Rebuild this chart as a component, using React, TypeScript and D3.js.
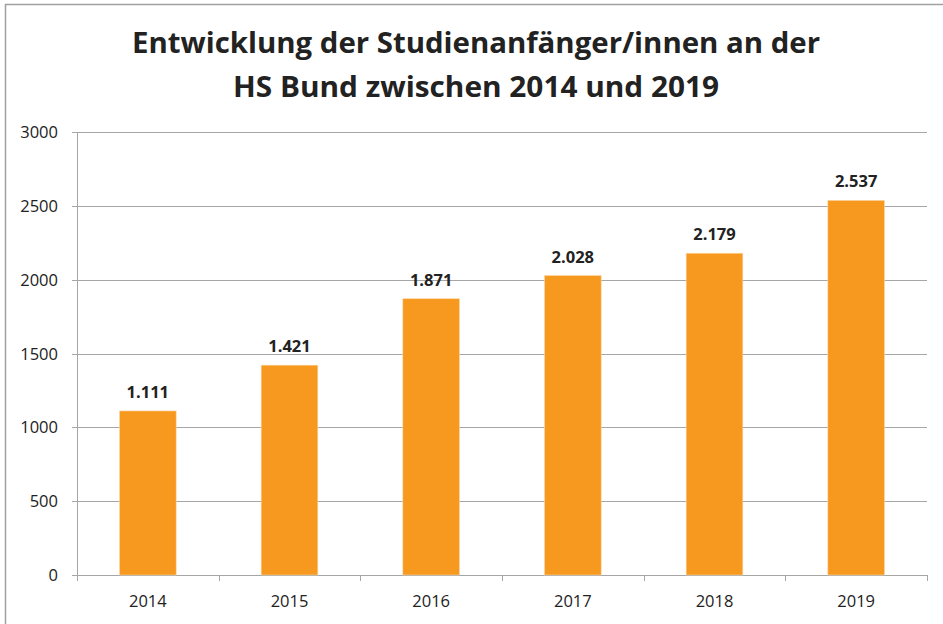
import React, { useEffect, useRef } from "react";
import * as d3 from "d3";

const years = ["2014", "2015", "2016", "2017", "2018", "2019"];
const starters = [1111, 1421, 1871, 2028, 2179, 2537];
const yTicks = [0, 500, 1000, 1500, 2000, 2500, 3000];
const titleLines = [
  "Entwicklung der Studienanfänger/innen an der",
  "HS Bund zwischen 2014 und 2019",
];
const titleWidths = [688, 486];

const W = 943;
const H = 624;

const App = () => {
  const svgRef = useRef<SVGSVGElement>(null);

  useEffect(() => {
    if (!svgRef.current) return;
    const svg = d3.select(svgRef.current);
    svg.selectAll("*").remove();

    const left = 77;
    const right = 927;
    const top = 132;
    const bottom = 575;
    const font = "'Open Sans', Lato, sans-serif";
    const gridColor = "#a6a6a6";

    const de = d3.formatLocale({
      decimal: ",",
      thousands: ".",
      grouping: [3],
      currency: ["", " €"],
    });
    const fmt = de.format(",d");

    // outer frame
    svg
      .append("rect")
      .attr("x", 5.5)
      .attr("y", 4.5)
      .attr("width", W)
      .attr("height", H)
      .attr("fill", "#fff")
      .attr("stroke", "#a0a0a0")
      .attr("stroke-width", 1.5);

    // title
    svg
      .append("g")
      .selectAll("text")
      .data(titleLines)
      .enter()
      .append("text")
      .attr("x", 476)
      .attr("y", (d, i) => 53 + i * 44)
      .attr("text-anchor", "middle")
      .attr("font-family", font)
      .attr("font-weight", "bold")
      .attr("font-size", 28)
      .attr("textLength", (d, i) => titleWidths[i])
      .attr("lengthAdjust", "spacingAndGlyphs")
      .attr("fill", "#222")
      .text((d) => d);

    const x = d3
      .scaleBand()
      .domain(years)
      .range([left, right])
      .paddingInner(0.6)
      .paddingOuter(0.3);

    const y = d3.scaleLinear().domain([0, 3000]).range([bottom, top]);

    // grid lines
    svg
      .append("g")
      .selectAll("line")
      .data(yTicks)
      .enter()
      .append("line")
      .attr("x1", left - 5)
      .attr("x2", right)
      .attr("y1", (d) => Math.round(y(d)) + 0.5)
      .attr("y2", (d) => Math.round(y(d)) + 0.5)
      .attr("stroke", gridColor)
      .attr("stroke-width", 1);

    // y axis line
    svg
      .append("line")
      .attr("x1", left + 0.5)
      .attr("x2", left + 0.5)
      .attr("y1", top)
      .attr("y2", bottom)
      .attr("stroke", gridColor);

    // x tick marks at category boundaries
    const step = x.step();
    const bounds = d3.range(years.length + 1).map((i) => left + i * step);
    svg
      .append("g")
      .selectAll("line")
      .data(bounds)
      .enter()
      .append("line")
      .attr("x1", (d) => Math.round(d) + 0.5)
      .attr("x2", (d) => Math.round(d) + 0.5)
      .attr("y1", bottom)
      .attr("y2", bottom + 6)
      .attr("stroke", gridColor);

    // y tick labels
    svg
      .append("g")
      .selectAll("text")
      .data(yTicks)
      .enter()
      .append("text")
      .attr("x", 58)
      .attr("y", (d) => y(d) + 6)
      .attr("text-anchor", "end")
      .attr("font-family", font)
      .attr("font-size", 16.5)
      .attr("fill", "#222")
      .text((d) => d);

    // bars
    svg
      .append("g")
      .selectAll("rect")
      .data(starters)
      .enter()
      .append("rect")
      .attr("x", (d, i) => x(years[i]))
      .attr("y", (d) => y(d))
      .attr("width", x.bandwidth())
      .attr("height", (d) => bottom - y(d))
      .attr("fill", "#f7991f")
      .attr("stroke", "#fbd9a8")
      .attr("stroke-width", 0.6);

    // value labels
    svg
      .append("g")
      .selectAll("text")
      .data(starters)
      .enter()
      .append("text")
      .attr("x", (d, i) => x(years[i]) + x.bandwidth() / 2)
      .attr("y", (d) => y(d) - 13)
      .attr("text-anchor", "middle")
      .attr("font-family", font)
      .attr("font-weight", "bold")
      .attr("font-size", 16.5)
      .attr("fill", "#222")
      .text((d) => fmt(d));

    // x labels
    svg
      .append("g")
      .selectAll("text")
      .data(years)
      .enter()
      .append("text")
      .attr("x", (d) => x(d) + x.bandwidth() / 2)
      .attr("y", 607)
      .attr("text-anchor", "middle")
      .attr("font-family", font)
      .attr("font-size", 16.5)
      .attr("fill", "#222")
      .text((d) => d);
  }, []);

  return (
    <svg
      ref={svgRef}
      width={W}
      height={H}
      style={{ position: "absolute", left: 0, top: 0, display: "block" }}
    />
  );
};

export default App;
